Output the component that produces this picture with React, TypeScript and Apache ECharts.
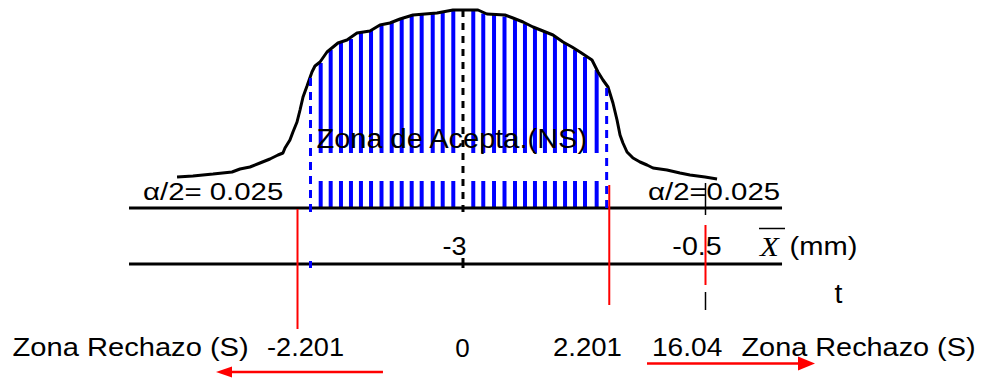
import React, { useEffect, useRef } from "react";
import * as echarts from "echarts";

// ---- Data (X̄ in mm, relative density) ----
const curveX = [
  -5.948, -5.784, -5.577, -5.381, -5.299, -5.196, -5.093, -4.99, -4.907, -4.856,
  -4.835, -4.784, -4.753, -4.711, -4.68, -4.649, -4.608, -4.557, -4.526, -4.474,
  -4.402, -4.289, -4.196, -4.093, -3.959, -3.856, -3.753, -3.649, -3.515, -3.392,
  -3.268, -3.103, -2.845, -2.753, -2.567, -2.485, -2.381, -2.278, -2.175, -2.072,
  -1.969, -1.876, -1.794, -1.67, -1.608, -1.557, -1.505, -1.454, -1.412, -1.381,
  -1.351, -1.309, -1.247, -1.175, -1.103, -1.041, -0.897, -0.763, -0.66, -0.505,
  -0.381,
];
const curveY = [
  0.155, 0.16, 0.17, 0.18, 0.195, 0.205, 0.225, 0.245, 0.265, 0.275,
  0.3, 0.34, 0.38, 0.43, 0.49, 0.555, 0.61, 0.68, 0.71, 0.73,
  0.78, 0.825, 0.84, 0.875, 0.885, 0.915, 0.925, 0.945, 0.965, 0.97,
  0.975, 0.99, 0.99, 0.97, 0.965, 0.95, 0.93, 0.905, 0.885, 0.865,
  0.83, 0.805, 0.78, 0.74, 0.68, 0.64, 0.605, 0.525, 0.44, 0.365,
  0.325, 0.28, 0.25, 0.23, 0.215, 0.2, 0.19, 0.175, 0.165, 0.155,
  0.145,
];

// hatching lines of the acceptance zone: position and height reached
const hatchX = [
  -4.467, -4.364, -4.258, -4.155, -4.052, -3.948, -3.84, -3.735, -3.632, -3.529,
  -3.426, -3.312, -3.209, -3.1, -2.894, -2.791, -2.68, -2.572, -2.464, -2.361,
  -2.258, -2.155, -2.052, -1.948, -1.845, -1.742, -1.622,
];
const hatchTop = [
  0.725, 0.79, 0.825, 0.845, 0.875, 0.885, 0.91, 0.925, 0.945, 0.96,
  0.965, 0.97, 0.975, 0.985, 0.985, 0.9725, 0.965, 0.9575, 0.94, 0.92,
  0.9025, 0.88, 0.855, 0.825, 0.79, 0.755, 0.69,
];

const hypMean = -3; // centre line
const acceptBounds = [-4.572, -1.519]; // blue dashed limits
const criticalX = [-4.706, -1.492]; // red critical lines
const sampleMean = -0.5; // red line of the observed mean

const xbarTicks = [-3, -0.5];
const xbarTickLabels = ["-3", "-0.5"];
const tLabels = ["-2.201", "0", "2.201", "16.04"];
const alphaLabel = "α/2= 0.025";
const alphaLabelRight = "α/2=0.025";
const acceptLabel = "Zona de Acepta.(NS)";
const rejectLabel = "Zona Rechazo (S)";

// axis lines span and levels
const axisSpan = [-6.443, 0.289];
const densityBase = 0;
const xbarAxisLevel = -0.28;

// arrows: [from, to, level]
const arrowLeft = [-3.825, -5.546, -0.82];
const arrowRight = [-1.103, 0.629, -0.7775];

// ---- layout / style ----
const X_MIN = -7.773;
const X_MAX = 2.3505;
const Y_MIN = -0.855;
const Y_MAX = 1.04;
const GAP_LOW = 0.135;
const GAP_HIGH = 0.275;
const BLUE = "#0000ff";
const RED = "#ff0000";
const SANS = "'Liberation Sans', Arial, Helvetica, sans-serif";
const SERIF = "'Liberation Serif', 'Times New Roman', serif";

function seg(points: number[][], color: string, width: number, type: any = "solid", z = 4) {
  return {
    type: "line",
    data: points,
    symbol: "none",
    silent: true,
    clip: false,
    z,
    lineStyle: { color, width, type, cap: "butt" },
  };
}

function txt(text: string, x: number, y: number, fontSize: number, scaleX = 1, align = "left", family = SANS, fontStyle = "normal") {
  return {
    type: "text",
    x,
    y,
    scaleX,
    z: 100,
    silent: true,
    style: {
      x: 0,
      y: 0,
      text,
      fill: "#000",
      fontSize,
      fontFamily: family,
      fontStyle,
      align,
      textAlign: align,
      verticalAlign: "middle",
      textVerticalAlign: "middle",
    },
  };
}

export default function App() {
  const ref = useRef<HTMLDivElement>(null);
  useEffect(() => {
    if (!ref.current) return;
    const chart = echarts.init(ref.current, undefined, { renderer: "svg" });
    const series: any[] = [];

    // hatching bars
    series.push({
      type: "custom",
      clip: false,
      z: 2,
      silent: true,
      data: hatchX.map((x, i) => [x, hatchTop[i]]),
      encode: { x: 0, y: 1 },
      renderItem: (params: any, api: any) => {
        const x = api.value(0);
        const top = api.value(1);
        const p0 = api.coord([x, densityBase]);
        const pl = api.coord([x, GAP_LOW]);
        const ph = api.coord([x, GAP_HIGH]);
        const pt = api.coord([x, top]);
        const w = 4;
        return {
          type: "group",
          children: [
            { type: "rect", shape: { x: p0[0] - w / 2, y: pl[1], width: w, height: p0[1] - pl[1] }, style: { fill: BLUE } },
            { type: "rect", shape: { x: pt[0] - w / 2, y: pt[1], width: w, height: ph[1] - pt[1] }, style: { fill: BLUE } },
          ],
        };
      },
    });

    // curve
    series.push({
      type: "line",
      data: curveX.map((x, i) => [x, curveY[i]]),
      symbol: "none",
      silent: true,
      z: 3,
      lineStyle: { color: "#000", width: 3 },
    });

    // axis lines
    series.push(seg([[axisSpan[0], densityBase], [axisSpan[1], densityBase]], "#000", 3, "solid", 3));
    series.push(seg([[axisSpan[0], xbarAxisLevel], [axisSpan[1], xbarAxisLevel]], "#000", 3, "solid", 3));

    // dashed lines
    series.push(seg([[hypMean, 0.99], [hypMean, -0.025]], "#000", 3, [7, 6], 4));
    series.push(seg([[hypMean, -0.25], [hypMean, -0.3]], "#000", 3, "solid", 4));
    series.push(seg([[acceptBounds[0], 0.65], [acceptBounds[0], -0.025]], BLUE, 3, [8, 6], 4));
    series.push(seg([[acceptBounds[0], -0.265], [acceptBounds[0], -0.3]], BLUE, 3, "solid", 4));
    series.push(seg([[acceptBounds[1], 0.6], [acceptBounds[1], -0.025]], BLUE, 3, [8, 6], 4));

    // black thin tick at observed mean
    series.push(seg([[sampleMean, 0.125], [sampleMean, -0.035]], "#000", 1.5, "solid", 4));
    series.push(seg([[sampleMean, -0.42], [sampleMean, -0.51]], "#000", 1.5, "solid", 4));

    // red lines
    series.push(seg([[criticalX[0], -0.005], [criticalX[0], -0.605]], RED, 2, "solid", 5));
    series.push(seg([[criticalX[1], 0.115], [criticalX[1], -0.485]], RED, 2, "solid", 5));
    series.push(seg([[sampleMean, -0.085], [sampleMean, -0.385]], RED, 2, "solid", 5));

    // arrows
    series.push({
      type: "custom",
      clip: false,
      silent: true,
      z: 5,
      data: [arrowLeft, arrowRight],
      encode: { x: [0, 1], y: 2 },
      renderItem: (params: any, api: any) => {
        const a = api.coord([api.value(0), api.value(2)]);
        const b = api.coord([api.value(1), api.value(2)]);
        const dir = b[0] > a[0] ? 1 : -1;
        const len = params.dataIndex === 0 ? 16 : 17;
        const half = params.dataIndex === 0 ? 5.5 : 7;
        return {
          type: "group",
          children: [
            { type: "line", shape: { x1: a[0], y1: a[1], x2: b[0] - dir * len * 0.8, y2: b[1] }, style: { stroke: RED, lineWidth: 2.5 } },
            { type: "polygon", shape: { points: [[b[0], b[1]], [b[0] - dir * len, b[1] - half], [b[0] - dir * len, b[1] + half]] }, style: { fill: RED } },
          ],
        };
      },
    });

    chart.setOption({
      animation: false,
      backgroundColor: "#fff",
      grid: { left: 0, right: 0, top: 0, bottom: 0, containLabel: false },
      xAxis: { type: "value", min: X_MIN, max: X_MAX, show: false },
      yAxis: { type: "value", min: Y_MIN, max: Y_MAX, show: false },
      series,
    });

    // texts
    const g: any[] = [];
    g.push(txt(acceptLabel, 316.5, 138.5, 28, 1.035));
    g.push(txt(alphaLabel, 143, 192, 23.5, 1.25));
    g.push(txt(alphaLabelRight, 648, 192.5, 23.5, 1.25));
    xbarTicks.forEach((v, i) => {
      const p = chart.convertToPixel({ gridIndex: 0 }, [v, xbarAxisLevel]) as number[];
      g.push(txt(xbarTickLabels[i], p[0] - 8.5, p[1] - 18, 26, i === 0 ? 1.04 : 1.1, "center"));
    });
    g.push(txt("X", 760, 246, 28, 1.1, "left", SERIF, "italic"));
    g.push({ type: "line", z: 100, silent: true, shape: { x1: 759, y1: 228.5, x2: 785, y2: 228.5 }, style: { stroke: "#000", lineWidth: 1.5 } });
    g.push(txt("(mm)", 789.5, 246, 26, 1.12));
    g.push(txt("t", 838.5, 294, 27, 1.05, "center"));
    g.push(txt(rejectLabel, 12.5, 347.5, 26, 1.12));
    g.push(txt(tLabels[0], 267, 347.5, 26, 1.045));
    g.push(txt(tLabels[1], 462.5, 347.5, 26, 1.0, "center"));
    g.push(txt(tLabels[2], 553, 347.5, 26, 1.06));
    g.push(txt(tLabels[3], 652, 347.5, 26, 1.08));
    g.push(txt(rejectLabel, 741.5, 347.5, 26, 1.11));
    chart.setOption({ graphic: { elements: g } });

    return () => chart.dispose();
  }, []);
  return (
    <div
      ref={ref}
      style={{ position: "fixed", left: 0, top: 0, width: 982, height: 379, background: "#fff" }}
    />
  );
}
